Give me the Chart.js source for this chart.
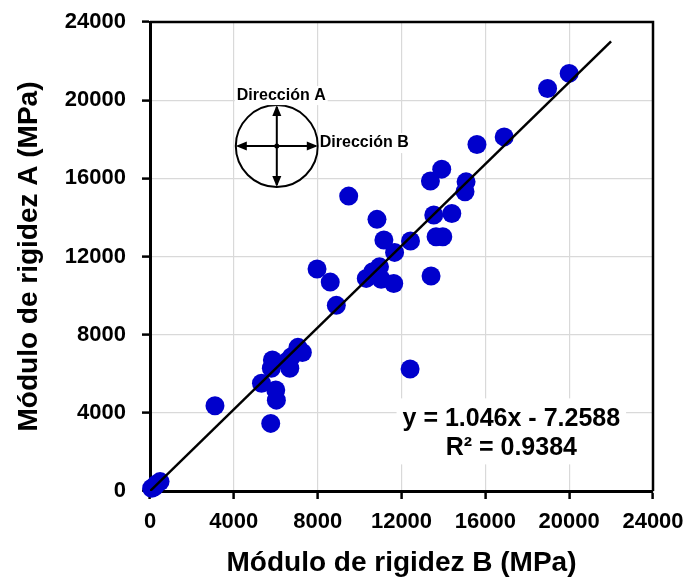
<!DOCTYPE html>
<html>
<head>
<meta charset="utf-8">
<script src="https://cdn.jsdelivr.net/npm/chart.js@4.4.1/dist/chart.umd.min.js"></script>
<style>
  html, body { margin: 0; padding: 0; background: #fff; }
  #wrap { width: 692px; height: 581px; position: relative; }
</style>
</head>
<body>
<div id="wrap"><canvas id="c"></canvas></div>
<script>
// ---- Data ----
const moduloB = [20000, 18970, 16900, 15600, 13920, 13380, 15080, 15030, 9480, 13540,
  14400, 10830, 11160, 12430, 13650, 13970, 11670, 7970, 8600, 13410,
  10320, 10950, 10630, 11030, 11630, 8890, 12410, 7060, 7270, 6750,
  6510, 5840, 5790, 6670, 5320, 6000, 6030, 5760, 3100, 200,
  480, 80, 300];
const moduloA = [21370, 20600, 18120, 17730, 16470, 15860, 15820, 15310, 15090, 14120,
  14200, 13900, 12840, 12790, 13010, 13010, 12210, 11360, 10690, 11000,
  10880, 11470, 11220, 10840, 10620, 9500, 6240, 7350, 7090, 6870,
  6610, 6700, 6280, 6280, 5510, 5170, 4650, 3460, 4360, 200,
  480, 140, 350];
const trendX = [0, 22000];
const trendY = [-7.26, 23004.9];
const tickValues = [0, 4000, 8000, 12000, 16000, 20000, 24000];
const equationLines = ['y = 1.046x - 7.2588', 'R\u00B2 = 0.9384'];
const xTitle = 'Módulo de rigidez B (MPa)';
const yTitle = 'Módulo de rigidez A (MPa)';
const labelA = 'Dirección A';
const labelB = 'Dirección B';
// anchors (data coordinates) for annotations
const insetCenter = { x: 6050, y: 17650 };
const equationAnchor = { x: 17240, y: 3000 };

const FONT = '"Liberation Sans", Arial, sans-serif';

const scatterPoints = moduloB.map((v, i) => ({ x: v, y: moduloA[i] }));
const trendPoints = trendX.map((v, i) => ({ x: v, y: trendY[i] }));

function arrowHead(ctx, x, y, dx, dy, len, half) {
  const px = -dy, py = dx;
  ctx.beginPath();
  ctx.moveTo(x, y);
  ctx.lineTo(x - dx * len + px * half, y - dy * len + py * half);
  ctx.lineTo(x - dx * len - px * half, y - dy * len - py * half);
  ctx.closePath();
  ctx.fill();
}

const annotations = {
  id: 'annotations',
  beforeDatasetsDraw(chart) {
    const { ctx, chartArea: ca, scales: { x, y } } = chart;
    ctx.save();
    // top and right frame lines
    ctx.strokeStyle = '#000';
    ctx.lineWidth = 2.5;
    ctx.beginPath();
    ctx.moveTo(ca.left, ca.top);
    ctx.lineTo(ca.right, ca.top);
    ctx.lineTo(ca.right, ca.bottom);
    ctx.stroke();

    // inset diagram
    const cx = x.getPixelForValue(insetCenter.x);
    const cy = y.getPixelForValue(insetCenter.y);
    const r = 41;
    ctx.fillStyle = '#fff';
    ctx.beginPath();
    ctx.arc(cx, cy, r, 0, Math.PI * 2);
    ctx.fill();
    ctx.lineWidth = 2;
    ctx.strokeStyle = '#000';
    ctx.stroke();
    ctx.beginPath();
    ctx.moveTo(cx - r + 2, cy); ctx.lineTo(cx + r - 2, cy);
    ctx.moveTo(cx, cy - r + 2); ctx.lineTo(cx, cy + r - 2);
    ctx.stroke();
    ctx.fillStyle = '#000';
    arrowHead(ctx, cx - r, cy, -1, 0, 11, 4.5);
    arrowHead(ctx, cx + r, cy, 1, 0, 11, 4.5);
    arrowHead(ctx, cx, cy - r, 0, -1, 11, 4.5);
    arrowHead(ctx, cx, cy + r, 0, 1, 11, 4.5);
    ctx.beginPath();
    ctx.arc(cx, cy, 2.5, 0, Math.PI * 2);
    ctx.fill();

    ctx.font = 'bold 16px ' + FONT;
    ctx.textBaseline = 'middle';
    const wA = ctx.measureText(labelA).width;
    const ax = cx - 40, ay = cy - r - 9;
    ctx.fillStyle = '#fff';
    ctx.fillRect(ax - 2, ay - 10, wA + 4, 19);
    ctx.fillStyle = '#000';
    ctx.textAlign = 'left';
    ctx.fillText(labelA, ax, ay);
    const wB = ctx.measureText(labelB).width;
    const bx = cx + r + 2, by = cy - 3;
    ctx.fillStyle = '#fff';
    ctx.fillRect(bx - 1, by - 10, wB + 4, 20);
    ctx.fillStyle = '#000';
    ctx.fillText(labelB, bx, by);

    // equation box
    const ex = x.getPixelForValue(equationAnchor.x);
    const ey = y.getPixelForValue(equationAnchor.y);
    ctx.font = 'bold 25px ' + FONT;
    ctx.textAlign = 'center';
    const w1 = ctx.measureText(equationLines[0]).width;
    ctx.fillStyle = '#fff';
    ctx.fillRect(ex - w1 / 2 - 6, ey - 34, w1 + 12, 66);
    ctx.fillStyle = '#000';
    ctx.fillText(equationLines[0], ex, ey - 13);
    ctx.fillText(equationLines[1], ex, ey + 16);
    ctx.restore();
  }
};

const axisCommon = (titleText, isY) => ({
  type: 'linear',
  min: 0,
  max: 24000,
  afterBuildTicks: (s) => { s.ticks = tickValues.map(v => ({ value: v })); },
  ticks: {
    color: '#000',
    font: { family: FONT, size: 22, weight: 'bold' },
    padding: isY ? 16 : 10,
    callback: (v) => String(v),
    maxRotation: 0,
    autoSkip: false
  },
  grid: {
    color: '#d9d9d9',
    lineWidth: 1.2,
    tickLength: 8,
    tickColor: '#000',
    tickWidth: 2.5
  },
  border: { display: true, color: '#000', width: 3 },
  title: {
    display: true,
    text: titleText,
    color: '#000',
    font: { family: FONT, size: 28, weight: 'bold' },
    padding: isY ? { top: 12, bottom: 0 } : { top: 0, bottom: 1 }
  }
});

const xScale = axisCommon(xTitle, false);
xScale.afterFit = (s) => { s.height = 90; s.paddingLeft = 0; s.paddingRight = 0; };
const yScale = axisCommon(yTitle, true);
yScale.afterFit = (s) => { s.width = 150; s.paddingTop = 0; s.paddingBottom = 0; };

new Chart(document.getElementById('c'), {
  data: {
    datasets: [
      {
        type: 'line',
        data: trendPoints,
        borderColor: '#000',
        borderWidth: 2.5,
        pointRadius: 0,
        fill: false,
        order: 0
      },
      {
        type: 'scatter',
        data: scatterPoints,
        backgroundColor: '#0000cc',
        borderWidth: 0,
        pointRadius: 9.5,
        pointHoverRadius: 9.5,
        clip: false,
        order: 1
      }
    ]
  },
  options: {
    responsive: true,
    maintainAspectRatio: false,
    animation: false,
    devicePixelRatio: 1,
    layout: { padding: { left: 0, top: 22, right: 39, bottom: 0 } },
    plugins: { legend: { display: false }, tooltip: { enabled: false } },
    scales: { x: xScale, y: yScale }
  },
  plugins: [annotations]
});
</script>
</body>
</html>
